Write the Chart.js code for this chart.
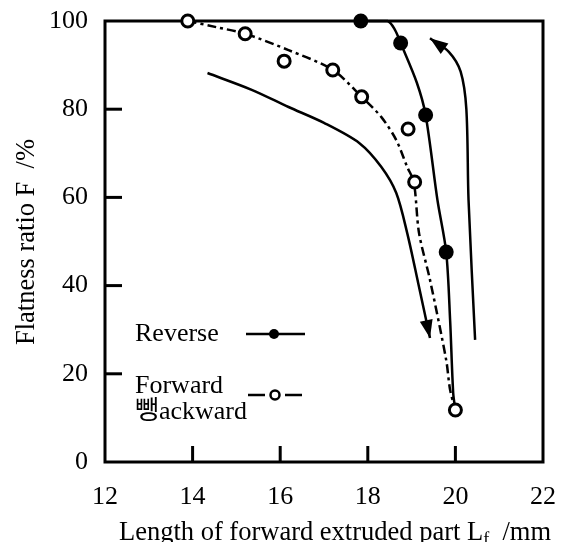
<!DOCTYPE html>
<html>
<head>
<meta charset="utf-8">
<title>Flatness ratio</title>
<script src="https://cdn.jsdelivr.net/npm/chart.js@4.4.1/dist/chart.umd.min.js"></script>
<style>
    html, body { margin: 0; padding: 0; background: #fff; }
</style>
</head>
<body>
<canvas id="flatness_cnv" width="563" height="542"></canvas>
<script>
// values
const x_tick_values = [12, 14, 16, 18, 20, 22];
const y_tick_values = [0, 20, 40, 60, 80, 100];

// reverse extrusion, measured points (filled)
const reverse_x = [17.84, 18.75, 19.32, 19.79];
const reverse_y = [100, 95.0, 78.7, 47.6];
// reverse extrusion, drawn curve
const reverse_curve_x = [17.84, 18.45, 18.62, 18.75, 19.12, 19.32, 19.59, 19.79, 19.88, 19.95, 20.0];
const reverse_curve_y = [100, 100, 98.0, 95.0, 86.0, 78.7, 59.4, 47.6, 32.0, 15.6, 11.8];

// forward-backward extrusion, measured points (open)
const fb_x = [13.89, 15.20, 16.09, 17.20, 17.86, 18.92, 19.07, 20.0];
const fb_y = [100, 97.1, 90.9, 88.9, 82.8, 75.5, 63.5, 11.8];
// forward-backward extrusion, dashed curve
const fb_curve_x = [13.89, 14.54, 15.20, 16.19, 17.20, 17.86, 18.31, 18.65, 18.90, 19.05, 19.17, 19.42, 19.79, 19.88, 20.0];
const fb_curve_y = [100, 98.6, 97.1, 93.4, 88.9, 82.8, 78.2, 73.0, 66.9, 63.5, 51.9, 41.3, 23.1, 16.3, 11.8];

// arrow curves (no markers)
const down_curve_x = [14.34, 15.35, 16.19, 17.0, 17.81, 18.31, 18.65, 18.90, 19.15, 19.42];
const down_curve_y = [88.2, 84.4, 80.5, 76.9, 72.3, 66.9, 61.0, 51.9, 40.6, 28.1];
const up_curve_x = [20.45, 20.30, 20.25, 20.12, 19.85, 19.42];
const up_curve_y = [27.7, 59.4, 80.0, 88.5, 93.0, 96.1];

const legend_labels = ["Reverse", "Forward", "뺑ackward"];

const serif = "'Liberation Serif', 'Noto Sans CJK KR', serif";

function to_points(xs, ys) {
    return xs.map((x, i) => ({x: x, y: ys[i]}));
}

// frame, inward tick marks, arrow heads, legend and axis titles
const decor_plugin = {
    id: 'decor_plugin',
    beforeDatasetsDraw(chart) {
        const {ctx, chartArea: a, scales} = chart;
        ctx.save();
        ctx.strokeStyle = '#000';
        ctx.lineWidth = 3;
        ctx.strokeRect(a.left, a.top, a.right - a.left, a.bottom - a.top);
        x_tick_values.slice(1, -1).forEach(v => {
            const px = scales.x.getPixelForValue(v);
            ctx.beginPath();
            ctx.moveTo(px, a.bottom);
            ctx.lineTo(px, a.bottom - 16);
            ctx.stroke();
        });
        y_tick_values.slice(1, -1).forEach(v => {
            const py = scales.y.getPixelForValue(v);
            ctx.beginPath();
            ctx.moveTo(a.left, py);
            ctx.lineTo(a.left + 17, py);
            ctx.stroke();
        });
        ctx.restore();
    },
    afterDatasetsDraw(chart) {
        const {ctx} = chart;
        ctx.save();
        ctx.fillStyle = '#000';
        ctx.strokeStyle = '#000';

        // arrow heads at the end of the arrow curves
        chart.data.datasets.forEach((ds, i) => {
            if (!ds.arrow) return;
            const pts = chart.getDatasetMeta(i).data;
            const tip = pts[pts.length - 1];
            const prev = pts[pts.length - 2];
            const ang = Math.atan2(tip.y - prev.y, tip.x - prev.x);
            const len = 18, half = 6.5;
            ctx.beginPath();
            ctx.moveTo(tip.x, tip.y);
            ctx.lineTo(tip.x - len * Math.cos(ang) + half * Math.sin(ang), tip.y - len * Math.sin(ang) - half * Math.cos(ang));
            ctx.lineTo(tip.x - len * Math.cos(ang) - half * Math.sin(ang), tip.y - len * Math.sin(ang) + half * Math.cos(ang));
            ctx.closePath();
            ctx.fill();
        });

        // legend inside the plot
        ctx.font = "26px " + serif;
        ctx.textAlign = 'left';
        ctx.textBaseline = 'middle';
        ctx.fillText(legend_labels[0], 135, 334);
        ctx.fillText(legend_labels[1], 135, 386);
        ctx.fillText(legend_labels[2], 135, 412);

        ctx.lineWidth = 2.5;
        ctx.beginPath();
        ctx.moveTo(246, 334);
        ctx.lineTo(305, 334);
        ctx.stroke();
        ctx.beginPath();
        ctx.arc(274, 334, 5, 0, Math.PI * 2);
        ctx.fill();

        ctx.beginPath();
        ctx.moveTo(248, 395);
        ctx.lineTo(265, 395);
        ctx.moveTo(285, 395);
        ctx.lineTo(302, 395);
        ctx.stroke();
        ctx.beginPath();
        ctx.arc(275, 395, 4.5, 0, Math.PI * 2);
        ctx.fillStyle = '#fff';
        ctx.fill();
        ctx.lineWidth = 2.5;
        ctx.stroke();
        ctx.fillStyle = '#000';

        // x title with subscript
        const t1 = "Length of forward extruded part L";
        const t2 = "f";
        const t3 = "  /mm";
        ctx.textBaseline = 'alphabetic';
        ctx.font = "26.5px " + serif;
        const w1 = ctx.measureText(t1).width;
        const w3 = ctx.measureText(t3).width;
        ctx.font = "18px " + serif;
        const w2 = ctx.measureText(t2).width;
        let x0 = 335 - (w1 + w2 + w3) / 2;
        ctx.font = "26.5px " + serif;
        ctx.fillText(t1, x0, 540);
        ctx.font = "18px " + serif;
        ctx.fillText(t2, x0 + w1, 545);
        ctx.font = "26.5px " + serif;
        ctx.fillText(t3, x0 + w1 + w2, 540);

        // y title
        ctx.translate(34, 242);
        ctx.rotate(-Math.PI / 2);
        ctx.textAlign = 'center';
        ctx.fillText("Flatness ratio F  /%", 0, 0);
        ctx.restore();
    }
};

const curve_style = {
    type: 'line',
    showLine: true,
    borderColor: '#000',
    borderWidth: 2.5,
    pointRadius: 0,
    pointHoverRadius: 0,
    tension: 0.3,
    fill: false,
    clip: false
};

const flatness_chart = new Chart(document.getElementById('flatness_cnv').getContext('2d'), {
    type: 'scatter',
    data: {
        datasets: [
            {
                label: "Reverse",
                data: to_points(reverse_x, reverse_y),
                pointRadius: 7.5,
                pointBackgroundColor: '#000',
                pointBorderColor: '#000',
                pointBorderWidth: 0,
                showLine: false,
                clip: false
            },
            {
                label: "Forward-backward",
                data: to_points(fb_x, fb_y),
                pointRadius: 6,
                pointBackgroundColor: '#fff',
                pointBorderColor: '#000',
                pointBorderWidth: 3,
                showLine: false,
                clip: false
            },
            Object.assign({}, curve_style, {label: "reverse curve", data: to_points(reverse_curve_x, reverse_curve_y)}),
            Object.assign({}, curve_style, {label: "forward-backward curve", data: to_points(fb_curve_x, fb_curve_y), borderDash: [9, 4, 3, 4]}),
            Object.assign({}, curve_style, {label: "down arrow", data: to_points(down_curve_x, down_curve_y), arrow: true}),
            Object.assign({}, curve_style, {label: "up arrow", data: to_points(up_curve_x, up_curve_y), arrow: true})
        ]
    },
    options: {
        responsive: false,
        animation: false,
        devicePixelRatio: 1,
        layout: {padding: {top: 21, right: 20, left: 0, bottom: 0}},
        plugins: {
            legend: {display: false},
            tooltip: {enabled: false}
        },
        scales: {
            x: {
                type: 'linear',
                min: 12,
                max: 22,
                afterBuildTicks: (scale) => { scale.ticks = x_tick_values.map(v => ({value: v})); },
                afterFit: (scale) => {
                    scale.height = 80;
                    scale.paddingLeft = 0;
                    scale.paddingRight = 0;
                },
                grid: {display: false, drawTicks: false},
                border: {display: false},
                ticks: {
                    autoSkip: false,
                    maxRotation: 0,
                    padding: 20,
                    color: '#000',
                    font: {family: serif, size: 26}
                }
            },
            y: {
                type: 'linear',
                min: 0,
                max: 100,
                afterBuildTicks: (scale) => { scale.ticks = y_tick_values.map(v => ({value: v})); },
                afterFit: (scale) => {
                    scale.width = 105;
                    scale.paddingTop = 0;
                    scale.paddingBottom = 0;
                },
                grid: {display: false, drawTicks: false},
                border: {display: false},
                ticks: {
                    autoSkip: false,
                    padding: 17,
                    color: '#000',
                    font: {family: serif, size: 26}
                }
            }
        }
    },
    plugins: [decor_plugin]
});
</script>
</body>
</html>
